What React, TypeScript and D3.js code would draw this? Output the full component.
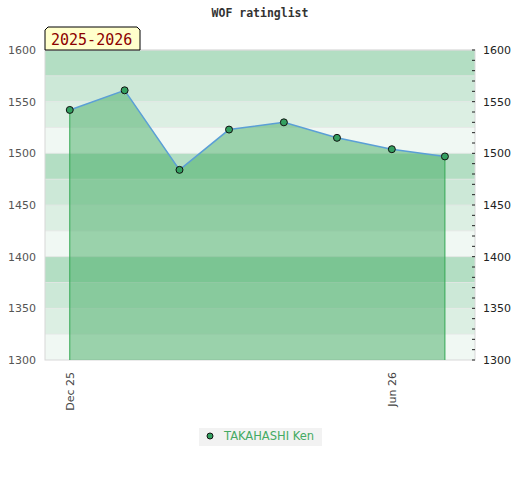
import React from 'react';
import * as d3 from 'd3';

// rating history, one entry per month
const dates = ['2025-12-01', '2026-01-01', '2026-02-01', '2026-03-01', '2026-04-01', '2026-05-01', '2026-06-01', '2026-07-01'];
const ratings = [1542, 1561, 1484, 1523, 1530, 1515, 1504, 1497];
const yTicks = [1300, 1350, 1400, 1450, 1500, 1550, 1600];
const xTickDates = ['2025-12-01', '2026-06-01'];
const xTickLabels = ['Dec 25', 'Jun 26'];
const playerName = 'TAKAHASHI Ken';
const seasonLabel = '2025-2026';
const chartTitle = 'WOF ratinglist';

const bandColors = ['#b3dec3', '#cce8d7', '#dcefe3', '#f0f8f3'];

const W = 520;
const H = 480;
const margin = { top: 50, right: 45, bottom: 120, left: 45 };

const App: React.FC = () => {
  const parse = d3.timeParse('%Y-%m-%d');
  const points = dates.map((d, i) => ({ date: parse(d) as Date, value: ratings[i] }));

  const x = d3.scaleTime()
    .domain([parse('2025-11-17') as Date, parse('2026-07-18') as Date])
    .range([margin.left, W - margin.right]);

  const y = d3.scaleLinear()
    .domain([1300, 1600])
    .range([H - margin.bottom, margin.top]);

  const bandStarts = d3.range(1600, 1300, -25);
  const minorTicks = d3.range(1300, 1601, 10);

  const line = d3.line<{ date: Date; value: number }>()
    .x(d => x(d.date))
    .y(d => y(d.value));

  const area = d3.area<{ date: Date; value: number }>()
    .x(d => x(d.date))
    .y0(y(1300))
    .y1(d => y(d.value));

  const first = points[0];
  const last = points[points.length - 1];
  const x0 = margin.left;
  const x1 = W - margin.right;
  const mono = '"DejaVu Sans Mono", monospace';
  const sans = '"DejaVu Sans", sans-serif';

  return (
    <svg width={W} height={H} style={{ position: 'absolute', left: 0, top: 0 }}>
      <rect width={W} height={H} fill="#fff" />
      <text x={W / 2} y={17} textAnchor="middle" fontFamily={mono} fontWeight="bold" fontSize={11.5} fill="#333">
        {chartTitle}
      </text>

      {/* background bands */}
      {bandStarts.map((v, i) => (
        <rect key={v} x={x0} y={y(v)} width={x1 - x0} height={y(v - 25) - y(v)} fill={bandColors[i % 4]} />
      ))}
      {bandStarts.map(v => (
        <line key={'g' + v} x1={x0} x2={x1} y1={y(v)} y2={y(v)} stroke="#e4e4e4" strokeOpacity={0.7} />
      ))}
      <rect x={x0} y={margin.top} width={x1 - x0} height={y(1300) - margin.top} fill="none" stroke="#d8d8d8" />

      {/* series */}
      <path d={area(points) || ''} fill="rgb(68,171,100)" fillOpacity={0.5} />
      <line x1={x(first.date)} x2={x(first.date)} y1={y(first.value)} y2={y(1300)} stroke="#33a853" />
      <line x1={x(last.date)} x2={x(last.date)} y1={y(last.value)} y2={y(1300)} stroke="#33a853" />
      <path d={line(points) || ''} fill="none" stroke="#5b9fd6" strokeWidth={1.5} />
      {points.map((p, i) => (
        <circle key={i} cx={x(p.date)} cy={y(p.value)} r={3.5} fill="#34a060" stroke="#111" strokeWidth={1} />
      ))}

      {/* left axis labels */}
      {yTicks.map(t => (
        <text key={'l' + t} x={36} y={y(t) + 4} textAnchor="end" fontFamily={sans} fontSize={11} fill="#555">{t}</text>
      ))}
      {/* right axis */}
      {minorTicks.map(t => (
        <line key={'m' + t} x1={x1 - 3} x2={x1} y1={y(t)} y2={y(t)} stroke="#222" />
      ))}
      {yTicks.map(t => (
        <text key={'r' + t} x={483} y={y(t) + 4} fontFamily={sans} fontSize={11} fill="#222">{t}</text>
      ))}

      {/* x axis labels */}
      {xTickDates.map((d, i) => {
        const px = x(parse(d) as Date) + 4;
        const py = y(1300) + 12;
        return (
          <text key={d} transform={`translate(${px},${py}) rotate(-90)`} textAnchor="end" fontFamily={sans} fontSize={11} fill="#444">
            {xTickLabels[i]}
          </text>
        );
      })}

      {/* season tag */}
      <path
        d={`M45,50 L45,30 L48,27 L137,27 L140,30 L140,50 Z`}
        fill="#ffffcc"
        stroke="#000"
        strokeWidth={1}
      />
      <text x={51} y={45} fontFamily={mono} fontSize={15} fill="#8b0000">{seasonLabel}</text>

      {/* legend */}
      <rect x={199} y={428} width={123} height={18} fill="#f2f2f2" />
      <circle cx={210} cy={436} r={3} fill="#34a060" stroke="#111" />
      <text x={224} y={440} fontFamily={sans} fontSize={11.5} fill="#44aa63">{playerName}</text>
    </svg>
  );
};

export default App;
